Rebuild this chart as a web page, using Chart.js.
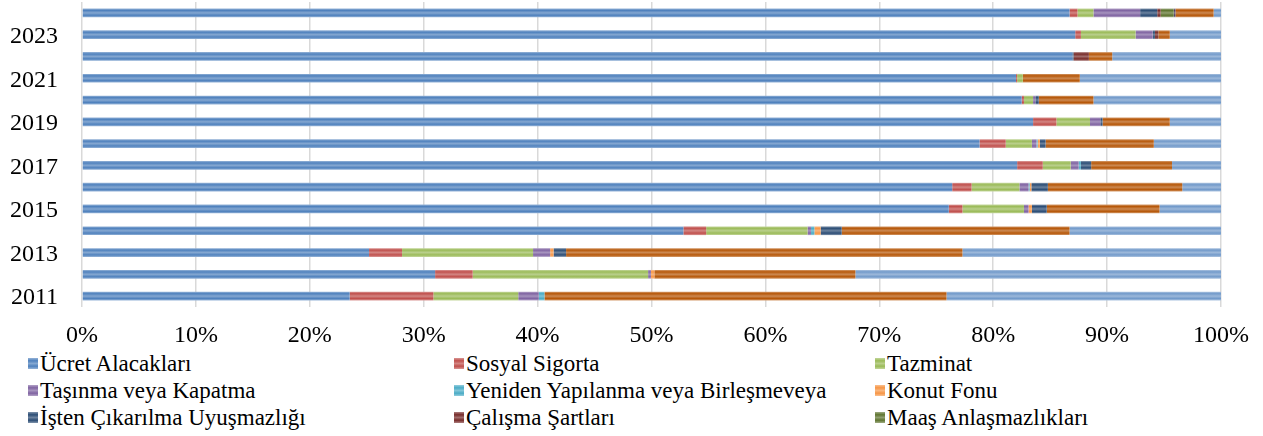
<!DOCTYPE html>
<html>
<head>
<meta charset="utf-8">
<script src="https://cdn.jsdelivr.net/npm/chart.js@4"></script>
<style>
  html, body { margin: 0; padding: 0; background: #ffffff; }
  #wrap { position: relative; width: 1263px; height: 436px; overflow: hidden; }
  #c { position: absolute; left: 0; top: 0; }
  .lg { position: absolute; display: flex; align-items: center; font-family: "Liberation Serif", "Times New Roman", serif; font-size: 23px; color: #000; white-space: nowrap; line-height: 1; }
  .lg i { display: inline-block; width: 10px; height: 11px; margin-right: 2px; }
</style>
</head>
<body>
<div id="wrap">
  <canvas id="c" width="1263" height="345"></canvas>
  <div id="legend"></div>
</div>
<script>
// ---- data (percent share per year) ----
const years = [2011, 2012, 2013, 2014, 2015, 2016, 2017, 2018, 2019, 2020, 2021, 2022, 2023, 2024];
const ucretAlacaklari   = [23.5, 31.0, 25.2, 52.8, 76.1, 76.4, 82.1, 78.8, 83.5, 82.5, 82.0, 86.95, 87.2, 86.7];
const sosyalSigorta     = [7.35, 3.3, 2.9, 2.0, 1.2, 1.7, 2.25, 2.3, 2.05, 0.2, 0.1, 0, 0.5, 0.7];
const tazminat          = [7.45, 15.4, 11.5, 8.9, 5.4, 4.2, 2.45, 2.3, 2.95, 0.8, 0.5, 0, 4.8, 1.4];
const tasinmaKapatma    = [1.8, 0.25, 1.5, 0.3, 0.4, 0.8, 0.7, 0.4, 0.9, 0.2, 0, 0, 1.5, 4.1];
const yenidenYapilanma  = [0.5, 0, 0, 0.3, 0, 0.1, 0.2, 0.1, 0, 0, 0, 0, 0, 0];
const konutFonu         = [0, 0.3, 0.3, 0.55, 0.3, 0.15, 0, 0.2, 0, 0, 0, 0, 0, 0];
const istenCikarilma    = [0, 0, 1.1, 1.85, 1.3, 1.45, 0.9, 0.5, 0.2, 0.3, 0, 0.1, 0.2, 1.5];
const calismaSartlari   = [0, 0, 0, 0, 0, 0, 0, 0, 0, 0, 0, 1.35, 0.3, 0.3];
const maasAnlasmazlik   = [0, 0, 0, 0, 0, 0, 0, 0, 0, 0, 0, 0, 0, 1.15];
const diger1            = [0, 0, 0, 0, 0, 0, 0, 0, 0, 0, 0, 0, 0, 0.15];
const diger2            = [35.3, 17.65, 34.8, 20.0, 9.9, 11.8, 7.1, 9.5, 5.9, 4.8, 5.0, 2.05, 1.0, 3.35];
const diger3            = [24.1, 32.1, 22.7, 13.3, 5.4, 3.4, 4.3, 5.9, 4.5, 11.2, 12.4, 9.55, 4.5, 0.65];
const xTicks = [0, 10, 20, 30, 40, 50, 60, 70, 80, 90, 100];

const seriesNames = ["Ücret Alacakları", "Sosyal Sigorta", "Tazminat", "Taşınma veya Kapatma",
  "Yeniden Yapılanma veya Birleşmeveya", "Konut Fonu", "İşten Çıkarılma Uyuşmazlığı",
  "Çalışma Şartları", "Maaş Anlaşmazlıkları", "Diğer 1", "Diğer 2", "Diğer 3"];
const seriesData = [ucretAlacaklari, sosyalSigorta, tazminat, tasinmaKapatma, yenidenYapilanma,
  konutFonu, istenCikarilma, calismaSartlari, maasAnlasmazlik, diger1, diger2, diger3];
const seriesColors = ["#4F81BD", "#C0504D", "#9BBB59", "#8064A2", "#4BACC6", "#F79646",
  "#2C4D75", "#772C2A", "#5F7530", "#4D3B62", "#B65708", "#729ACA"];
const legendCount = 9;

// ---- styling helpers ----
const FONT = '"Liberation Serif", "Times New Roman", serif';
const BAR_PCT = 0.4;
function mix(hex, t) {
  const n = parseInt(hex.slice(1), 16);
  const r = (n >> 16) & 255, g = (n >> 8) & 255, b = n & 255;
  const f = v => Math.round(v + (255 - v) * t);
  return `rgb(${f(r)},${f(g)},${f(b)})`;
}
function barFill(base) {
  return (ctx) => {
    const chart = ctx.chart;
    const ys = chart.scales && chart.scales.y;
    if (ctx.type !== 'data' || !ys || !chart.chartArea || ys.height <= 0) return base;
    const yc = ys.getPixelForValue(ctx.dataIndex);
    const h = ys.height / years.length * BAR_PCT / 2;
    const gr = chart.ctx.createLinearGradient(0, yc - h, 0, yc + h);
    gr.addColorStop(0, mix(base, 0.4));
    gr.addColorStop(0.22, base);
    gr.addColorStop(0.5, mix(base, 0.3));
    gr.addColorStop(0.78, base);
    gr.addColorStop(1, mix(base, 0.4));
    return gr;
  };
}

const datasets = seriesNames.map((name, i) => ({
  label: name,
  data: seriesData[i],
  backgroundColor: barFill(seriesColors[i]),
  borderWidth: 0,
  barPercentage: BAR_PCT,
  categoryPercentage: 1.0
}));

new Chart(document.getElementById('c'), {
  type: 'bar',
  data: { labels: years.map(String), datasets },
  options: {
    indexAxis: 'y',
    responsive: false,
    animation: false,
    layout: { padding: { left: 0, right: 39, top: 2, bottom: 0 } },
    plugins: { legend: { display: false }, tooltip: { enabled: false } },
    scales: {
      x: {
        stacked: true,
        min: 0, max: 100,
        afterBuildTicks: (s) => { s.ticks = xTicks.map(v => ({ value: v })); },
        afterFit: (s) => { s.height = 38; },
        ticks: { callback: v => v + '%', color: '#000', padding: 14, font: { family: FONT, size: 24 } },
        grid: { color: '#D9D9D9', lineWidth: 1.5, drawTicks: false },
        border: { display: false }
      },
      y: {
        stacked: true,
        reverse: true,
        afterFit: (s) => { s.width = 82; s.paddingTop = 0; s.paddingBottom = 0; },
        ticks: {
          autoSkip: false,
          color: '#000',
          padding: 24,
          labelOffset: 2,
          font: { family: FONT, size: 24 },
          callback: function (v, i) { return i % 2 === 0 ? this.getLabelForValue(v) : ''; }
        },
        grid: { display: false, drawTicks: false },
        border: { display: false }
      }
    }
  }
});

// ---- legend (3 columns, as in the original) ----
const lg = document.getElementById('legend');
const colX = [28, 454, 875];
const rowY = [363.5, 390.5, 417];
for (let i = 0; i < legendCount; i++) {
  const d = document.createElement('div');
  d.className = 'lg';
  d.style.left = colX[i % 3] + 'px';
  d.style.top = (rowY[Math.floor(i / 3)] - 12) + 'px';
  d.style.height = '24px';
  const c = seriesColors[i];
  const sw = document.createElement('i');
  sw.style.background = `linear-gradient(to bottom, ${mix(c, 0.4)} 0%, ${c} 25%, ${mix(c, 0.3)} 50%, ${c} 75%, ${mix(c, 0.4)} 100%)`;
  d.appendChild(sw);
  d.appendChild(document.createTextNode(seriesNames[i]));
  lg.appendChild(d);
}
</script>
</body>
</html>
